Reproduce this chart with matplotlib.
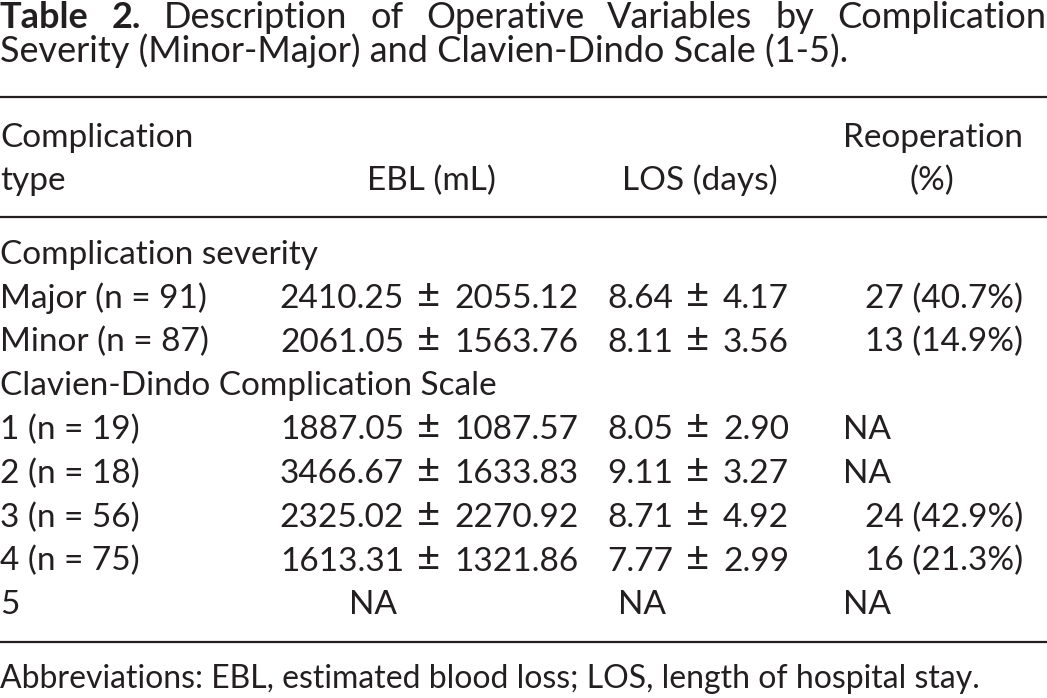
import matplotlib
matplotlib.use("Agg")
import matplotlib.pyplot as plt

TEXT_COLOUR = "#231f20"
FONT = "Lato"
BODY_SIZE = 24
TITLE_SIZE = 26
FOOT_SIZE = 23
PM_SIZE = 29

title_bold = "Table 2."
title_line1 = "Description of Operative Variables by Complication"
title_line2 = "Severity (Minor-Major) and Clavien-Dindo Scale (1-5)."

header_top = ["Complication", "", "", "Reoperation"]
header_bottom = ["type", "EBL (mL)", "LOS (days)", "(%)"]

group_names = ["Complication severity", "Clavien-Dindo Complication Scale"]

severity_labels = ["Major (n = 91)", "Minor (n = 87)"]
severity_ebl_mean = ["2410.25", "2061.05"]
severity_ebl_sd = ["2055.12", "1563.76"]
severity_los_mean = ["8.64", "8.11"]
severity_los_sd = ["4.17", "3.56"]
severity_reop = ["27 (40.7%)", "13 (14.9%)"]

scale_labels = ["1 (n = 19)", "2 (n = 18)", "3 (n = 56)", "4 (n = 75)", "5"]
scale_ebl_mean = ["1887.05", "3466.67", "2325.02", "1613.31", None]
scale_ebl_sd = ["1087.57", "1633.83", "2270.92", "1321.86", None]
scale_los_mean = ["8.05", "9.11", "8.71", "7.77", None]
scale_los_sd = ["2.90", "3.27", "4.92", "2.99", None]
scale_reop = ["NA", "NA", "24 (42.9%)", "16 (21.3%)", "NA"]

footnote = "Abbreviations: EBL, estimated blood loss; LOS, length of hospital stay."

# layout in pixels (y grows downward)
W, H = 1047, 698
FIRST_ROW_Y = 264
ROW_STEP = 43.8
EBL_PM_X, LOS_PM_X = 429, 698
REOP_RIGHT_X, REOP_NA_X = 1023, 843
EBL_NA_X, LOS_NA_X = 373, 642

fig = plt.figure(figsize=(W / 100, H / 100), dpi=100)
ax = fig.add_axes([0, 0, 1, 1])
ax.set_xlim(0, W)
ax.set_ylim(H, 0)
ax.axis("off")
renderer = fig.canvas.get_renderer()


def put(x, y, s, ha="left", weight="normal", size=BODY_SIZE):
    return ax.text(x, y, s, ha=ha, va="baseline", fontsize=size, family=FONT,
                   color=TEXT_COLOUR, weight=weight)


# title, first line justified across the full width
words = [(w, "bold") for w in title_bold.split()] + [(w, "normal") for w in title_line1.split()]
texts = [put(0, 28, w, weight=wt, size=TITLE_SIZE) for w, wt in words]
widths = [t.get_window_extent(renderer).width for t in texts]
gap = (W - 1 - sum(widths)) / (len(texts) - 1)
x = 0.0
for t, w in zip(texts, widths):
    t.set_x(x)
    x += w + gap
put(0, 62, title_line2, size=TITLE_SIZE)

# rules
for y in (97, 217, 642):
    ax.plot([0, W], [y, y], color=TEXT_COLOUR, linewidth=1.6, solid_capstyle="butt")

# header
put(0, 147, header_top[0])
put(933, 147, header_top[3], ha="center")
put(0, 190, header_bottom[0])
put(431, 190, header_bottom[1], ha="center")
put(700, 190, header_bottom[2], ha="center")
put(932, 190, header_bottom[3], ha="center")


def put_row(y, label, ebl_m, ebl_s, los_m, los_s, reop):
    put(0, y, label)
    if ebl_m is None:
        put(EBL_NA_X, y, "NA", ha="center")
    else:
        put(EBL_PM_X - 25, y, ebl_m, ha="right")
        put(EBL_PM_X, y, "\u00b1", ha="center", size=PM_SIZE)
        put(EBL_PM_X + 25, y, ebl_s)
    if los_m is None:
        put(LOS_NA_X, y, "NA", ha="center")
    else:
        put(LOS_PM_X - 25, y, los_m, ha="right")
        put(LOS_PM_X, y, "\u00b1", ha="center", size=PM_SIZE)
        put(LOS_PM_X + 25, y, los_s)
    if reop == "NA":
        put(REOP_NA_X, y, reop)
    else:
        put(REOP_RIGHT_X, y, reop, ha="right")


row = 0
put(0, FIRST_ROW_Y + row * ROW_STEP, group_names[0])
row += 1
for i in range(len(severity_labels)):
    put_row(FIRST_ROW_Y + row * ROW_STEP, severity_labels[i], severity_ebl_mean[i],
            severity_ebl_sd[i], severity_los_mean[i], severity_los_sd[i], severity_reop[i])
    row += 1
put(0, FIRST_ROW_Y + row * ROW_STEP, group_names[1])
row += 1
for i in range(len(scale_labels)):
    put_row(FIRST_ROW_Y + row * ROW_STEP, scale_labels[i], scale_ebl_mean[i],
            scale_ebl_sd[i], scale_los_mean[i], scale_los_sd[i], scale_reop[i])
    row += 1

put(0, 688, footnote, size=FOOT_SIZE)

fig.savefig("out.png", dpi=100, facecolor="white")
